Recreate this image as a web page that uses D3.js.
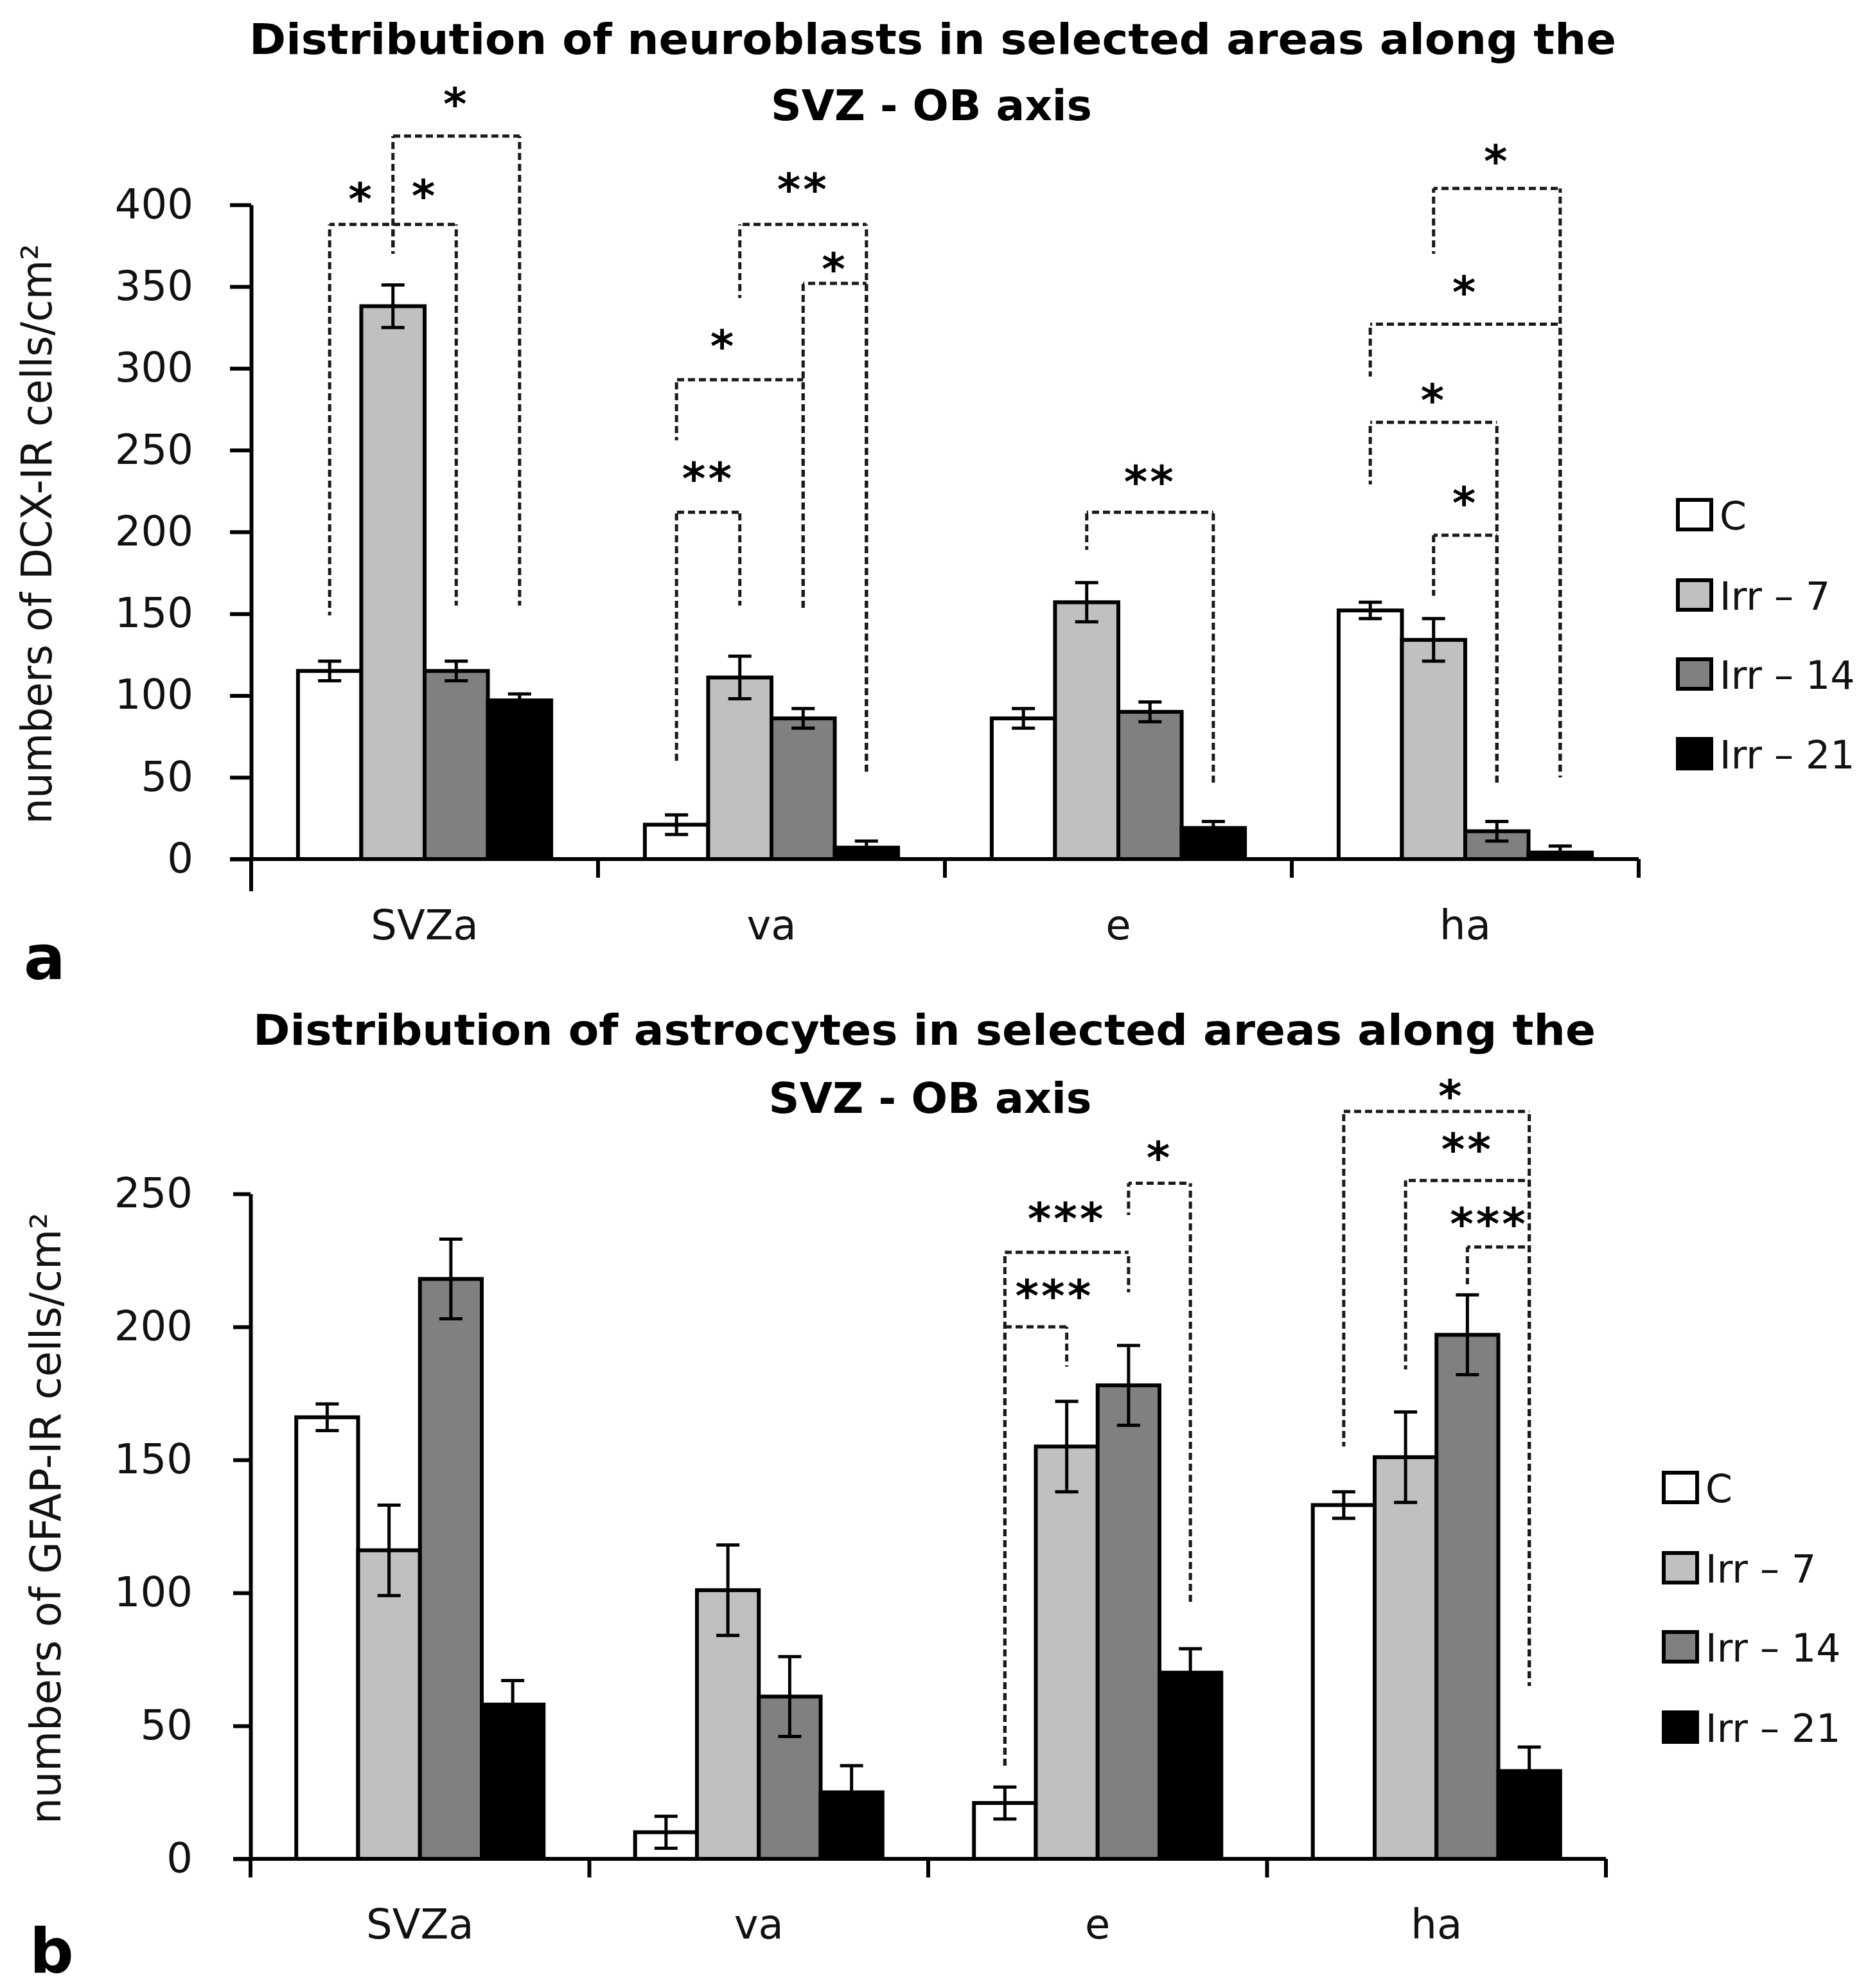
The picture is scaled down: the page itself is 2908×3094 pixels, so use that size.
<!DOCTYPE html>
<html>
<head>
<meta charset="utf-8">
<script src="https://cdn.jsdelivr.net/npm/d3@7"></script>
<style>
  body { margin: 0; background: #fff; }
  svg text { font-family: "DejaVu Sans", Verdana, sans-serif; }
</style>
</head>
<body>
<div id="chart"></div>
<script>
// Areas along the SVZ - OB axis and the four groups
const categories = ['SVZa', 'va', 'e', 'ha'];
const groups = ['C', 'Irr – 7', 'Irr – 14', 'Irr – 21'];
const groupFill = ['#ffffff', '#c0c0c0', '#808080', '#000000'];

// Panel a: DCX-IR cells (neuroblasts), one row per area, one value per group
const dcxMean = [
  [115, 338, 115, 97],
  [21, 111, 86, 7],
  [86, 157, 90, 19],
  [152, 134, 17, 4]
];
const dcxError = [
  [6, 13, 6, 4],
  [6, 13, 6, 4],
  [6, 12, 6, 4],
  [5, 13, 6, 4]
];
const dcxTicks = [0, 50, 100, 150, 200, 250, 300, 350, 400];

// Panel b: GFAP-IR cells (astrocytes)
const gfapMean = [
  [166, 116, 218, 58],
  [10, 101, 61, 25],
  [21, 155, 178, 70],
  [133, 151, 197, 33]
];
const gfapError = [
  [5, 17, 15, 9],
  [6, 17, 15, 10],
  [6, 17, 15, 9],
  [5, 17, 15, 9]
];
const gfapTicks = [0, 50, 100, 150, 200, 250];

// Significance brackets: area, from group, to group, bracket level,
// lower end of left leg, lower end of right leg, label, label level, label place (0..1)
const dcxSig = [
  ['SVZa', 0, 1, 388, 149, 370, '*', 409, 0.5],
  ['SVZa', 1, 2, 388, 370, 155, '*', 411, 0.5],
  ['SVZa', 1, 3, 442, 370, 155, '*', 467, 0.5],
  ['va', 0, 1, 212, 60, 155, '**', 238, 0.5],
  ['va', 0, 2, 293, 256, 153, '*', 319, 0.37],
  ['va', 1, 3, 388, 343, 52, '**', 415, 0.5],
  ['va', 2, 3, 352, 153, 52, '*', 366, 0.5],
  ['e', 1, 3, 212, 189, 46, '**', 236, 0.5],
  ['ha', 1, 2, 198, 161, 46, '*', 223, 0.5],
  ['ha', 0, 2, 267, 229, 46, '*', 286, 0.5],
  ['ha', 0, 3, 327, 295, 50, '*', 352, 0.5],
  ['ha', 1, 3, 410, 370, 50, '*', 432, 0.5]
];
const gfapSig = [
  ['e', 0, 1, 200, 35, 185, '***', 215, 0.8],
  ['e', 0, 2, 228, 35, 213, '***', 244, 0.5],
  ['e', 2, 3, 254, 242, 96, '*', 267, 0.5],
  ['ha', 0, 3, 281, 155, 65, '*', 290, 0.58],
  ['ha', 1, 3, 255, 184, 65, '**', 270, 0.5],
  ['ha', 2, 3, 230, 216, 65, '***', 242, 0.35]
];

// Layout of the two panels
const panels = [
  {
    letter: 'a', letterX: 37, letterY: 1524,
    title: ['Distribution of neuroblasts in selected areas along the', 'SVZ - OB axis'],
    titleX: [1452, 1450], titleY: [84, 187], titleLen: [2128, 500],
    yLabel: 'numbers of DCX-IR cells/cm²', yLabelX: 80, yLabelY: 831, yLabelLen: 903,
    mean: dcxMean, error: dcxError, ticks: dcxTicks, sig: dcxSig,
    xLeft: 391, xRight: 2551, y0: 1337, yTop: 318.7,
    tickLen: 33, firstDrop: 50, drop: 29, catY: 1462,
    legendX: 2612, legendTop: [778, 903, 1026, 1150], legendTextX: 2677
  },
  {
    letter: 'b', letterX: 46, letterY: 3070,
    title: ['Distribution of astrocytes in selected areas along the', 'SVZ - OB axis'],
    titleX: [1439, 1448], titleY: [1626, 1732], titleLen: [2090, 503],
    yLabel: 'numbers of GFAP-IR cells/cm²', yLabelX: 94, yLabelY: 2363, yLabelLen: 952,
    mean: gfapMean, error: gfapError, ticks: gfapTicks, sig: gfapSig,
    xLeft: 390, xRight: 2500, y0: 2893, yTop: 1858,
    tickLen: 27, firstDrop: 29, drop: 29, catY: 3017,
    legendX: 2590, legendTop: [2292, 2417, 2540, 2665], legendTextX: 2655
  }
];

const DASH = [11, 6];
const DASH_PERIOD = DASH[0] + DASH[1];

const svg = d3.select('#chart')
  .append('svg')
    .attr('width', 2908)
    .attr('height', 3094)
    .style('background', '#fff');

// Dashed segment whose dash pattern is anchored to the page, so overlapping legs stay dashed
function dashedLine(sel, x1, y1, x2, y2) {
  const start = x1 === x2 ? Math.min(y1, y2) : Math.min(x1, x2);
  const end = x1 === x2 ? Math.max(y1, y2) : Math.max(x1, x2);
  const vertical = x1 === x2;
  sel.append('line')
    .attr('x1', vertical ? x1 : start).attr('x2', vertical ? x1 : end)
    .attr('y1', vertical ? start : y1).attr('y2', vertical ? end : y1)
    .attr('stroke', '#1a1a1a')
    .attr('stroke-width', 5)
    .attr('stroke-dasharray', DASH.join(' '))
    .attr('stroke-dashoffset', ((start % DASH_PERIOD) + DASH_PERIOD) % DASH_PERIOD);
}

function drawPanel(p) {
  const g = svg.append('g');
  const yMax = p.ticks[p.ticks.length - 1];

  const y = d3.scaleLinear().domain([0, yMax]).range([p.y0, p.yTop]);
  const x0 = d3.scaleBand().domain(categories).range([p.xLeft, p.xRight]);
  const pad = x0.bandwidth() * 0.135;
  const x1 = d3.scaleBand().domain(d3.range(groups.length)).range([pad, x0.bandwidth() - pad]);
  const barCenter = (cat, i) => x0(cat) + x1(i) + x1.bandwidth() / 2;

  // Titles
  p.title.forEach((t, i) => {
    g.append('text')
      .attr('x', p.titleX[i])
      .attr('y', p.titleY[i])
      .attr('text-anchor', 'middle')
      .attr('font-size', 66)
      .attr('font-weight', 'bold')
      .attr('textLength', p.titleLen[i])
      .attr('lengthAdjust', 'spacingAndGlyphs')
      .text(t);
  });

  // Y axis
  const yAxis = d3.axisLeft(y)
    .tickValues(p.ticks)
    .tickSize(p.tickLen)
    .tickPadding(90 - p.tickLen)
    .tickSizeOuter(0);
  const ya = g.append('g')
    .attr('transform', `translate(${p.xLeft},0)`)
    .call(yAxis)
    .attr('font-size', 64)
    .attr('font-family', '"DejaVu Sans", Verdana, sans-serif');
  ya.select('.domain').attr('stroke', '#000').attr('stroke-width', 6);
  ya.selectAll('.tick line').attr('stroke', '#000').attr('stroke-width', 6);
  ya.selectAll('.tick text').attr('fill', '#111');

  // Y axis title
  g.append('text')
    .attr('transform', `translate(${p.yLabelX},${p.yLabelY}) rotate(-90)`)
    .attr('text-anchor', 'middle')
    .attr('font-size', 66)
    .attr('fill', '#111')
    .attr('textLength', p.yLabelLen)
    .attr('lengthAdjust', 'spacingAndGlyphs')
    .text(p.yLabel);

  // Bars
  categories.forEach((cat, ci) => {
    const bg = g.append('g').attr('transform', `translate(${x0(cat)},0)`);
    bg.selectAll('rect')
      .data(p.mean[ci])
      .enter()
      .append('rect')
        .attr('x', (d, i) => x1(i))
        .attr('y', d => y(d))
        .attr('width', x1.bandwidth())
        .attr('height', d => y(0) - y(d))
        .attr('fill', (d, i) => groupFill[i])
        .attr('stroke', '#000')
        .attr('stroke-width', 6);

    // Error bars
    p.mean[ci].forEach((m, i) => {
      const e = p.error[ci][i];
      const cx = x1(i) + x1.bandwidth() / 2;
      const eg = bg.append('g').attr('stroke', '#000').attr('stroke-width', 5);
      eg.append('line').attr('x1', cx).attr('x2', cx).attr('y1', y(m - e)).attr('y2', y(m + e));
      [m - e, m + e].forEach(v => {
        eg.append('line').attr('x1', cx - 18).attr('x2', cx + 18).attr('y1', y(v)).attr('y2', y(v));
      });
    });
  });

  // X axis: baseline and ticks at area boundaries
  const xa = g.append('g').attr('stroke', '#000').attr('stroke-width', 6);
  xa.append('line')
    .attr('x1', p.xLeft - p.tickLen).attr('x2', p.xRight)
    .attr('y1', y(0)).attr('y2', y(0));
  const bounds = categories.map(c => x0(c)).concat([p.xRight]);
  xa.selectAll('line.bound')
    .data(bounds)
    .enter()
    .append('line')
      .attr('class', 'bound')
      .attr('x1', d => d).attr('x2', d => d)
      .attr('y1', y(0))
      .attr('y2', (d, i) => y(0) + (i === 0 ? p.firstDrop : p.drop));

  g.append('g')
    .selectAll('text')
    .data(categories)
    .enter()
    .append('text')
      .attr('x', d => x0(d) + x0.bandwidth() / 2)
      .attr('y', p.catY)
      .attr('text-anchor', 'middle')
      .attr('font-size', 64)
      .attr('fill', '#111')
      .text(d => d);

  // Significance brackets
  const sg = g.append('g');
  p.sig.forEach(s => {
    const [cat, a, b, top, legA, legB, label, labelV, frac] = s;
    const xa1 = barCenter(cat, a);
    const xb1 = barCenter(cat, b);
    dashedLine(sg, xa1, y(top), xa1, y(legA));
    dashedLine(sg, xa1, y(top), xb1, y(top));
    dashedLine(sg, xb1, y(top), xb1, y(legB));
    sg.append('text')
      .attr('x', xa1 + frac * (xb1 - xa1))
      .attr('y', y(labelV) + 38)
      .attr('text-anchor', 'middle')
      .attr('font-size', 70)
      .attr('font-weight', 'bold')
      .attr('letter-spacing', 4)
      .text(label);
  });

  // Legend
  const lg = g.append('g');
  groups.forEach((name, i) => {
    lg.append('rect')
      .attr('x', p.legendX)
      .attr('y', p.legendTop[i])
      .attr('width', 52)
      .attr('height', 46)
      .attr('fill', groupFill[i])
      .attr('stroke', '#000')
      .attr('stroke-width', 6);
    lg.append('text')
      .attr('x', p.legendTextX)
      .attr('y', p.legendTop[i] + 46)
      .attr('font-size', 60)
      .attr('fill', '#111')
      .text(name);
  });

  // Panel letter
  g.append('text')
    .attr('x', p.letterX)
    .attr('y', p.letterY)
    .attr('font-size', 96)
    .attr('font-weight', 'bold')
    .text(p.letter);
}

panels.forEach(drawPanel);
</script>
</body>
</html>
